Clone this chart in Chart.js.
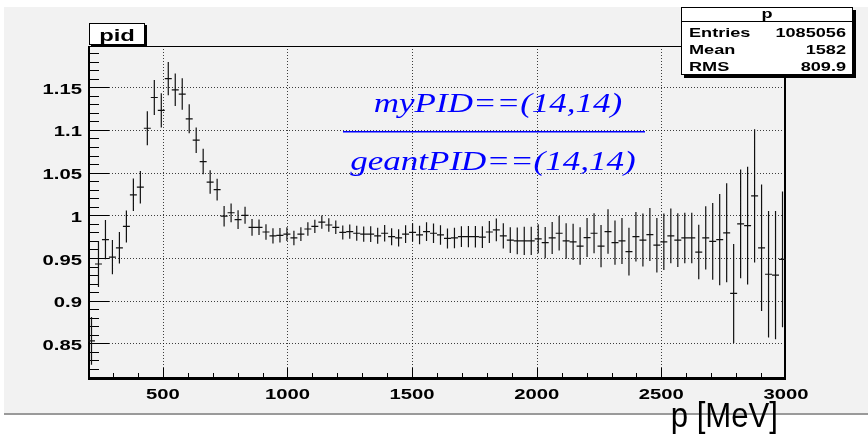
<!DOCTYPE html>
<html>
<head>
<meta charset="utf-8">
<title>pid</title>
<script src="https://cdn.jsdelivr.net/npm/chart.js@4.4.0/dist/chart.umd.min.js"></script>
<style>
  html, body { margin: 0; padding: 0; background: #fff; }
  canvas { display: block; }
</style>
</head>
<body>
<canvas id="pid" width="868" height="435"></canvas>
<script>
// momentum binning of the histogram: 100 bins, 200 - 3000 MeV
const pMin = 200;
const pMax = 3000;
const nBins = 100;

// efficiency ratio per bin and its error
const ratio = [
  0.853, 0.943, 0.9715, 0.951, 0.962, 0.987, 1.024, 1.033, 1.102, 1.138,
  1.123, 1.160, 1.147, 1.142, 1.113, 1.088, 1.063, 1.039, 1.030, 0.999,
  1.003, 0.995, 1.000, 0.986, 0.986, 0.9805, 0.976, 0.9766, 0.978, 0.9735,
  0.978, 0.984, 0.987, 0.992, 0.9887, 0.986, 0.980, 0.981, 0.979, 0.978,
  0.978, 0.976, 0.979, 0.975, 0.9735, 0.978, 0.980, 0.977, 0.981, 0.979,
  0.977, 0.973, 0.9735, 0.975, 0.975, 0.975, 0.9745, 0.9805, 0.983, 0.976,
  0.971, 0.970, 0.970, 0.970, 0.9725, 0.968, 0.9735, 0.979, 0.970, 0.969,
  0.964, 0.974, 0.979, 0.964, 0.981, 0.968, 0.970, 0.9576, 0.975, 0.971,
  0.9775, 0.965, 0.969, 0.976, 0.971, 0.9735, 0.9735, 0.957, 0.9735, 0.9695,
  0.9715, 0.9795, 0.9085, 0.990, 0.988, 1.0228, 0.962, 0.931, 0.930, 0.9485
];
const ratioErr = [
  0.028, 0.027, 0.023, 0.020, 0.0185, 0.0187, 0.019, 0.019, 0.020, 0.0205,
  0.020, 0.0195, 0.019, 0.0185, 0.017, 0.015, 0.015, 0.0137, 0.0127, 0.012,
  0.011, 0.011, 0.010, 0.0098, 0.009, 0.009, 0.009, 0.0085, 0.008, 0.0085,
  0.008, 0.008, 0.0078, 0.0078, 0.0079, 0.008, 0.0082, 0.0084, 0.0087, 0.009,
  0.0091, 0.0094, 0.0097, 0.0099, 0.0101, 0.0103, 0.0106, 0.0108, 0.011, 0.0113,
  0.0115, 0.0117, 0.012, 0.0122, 0.0124, 0.0126, 0.0128, 0.013, 0.0134, 0.0147,
  0.015, 0.0157, 0.0165, 0.0165, 0.017, 0.0182, 0.0188, 0.0203, 0.0208, 0.0212,
  0.022, 0.0228, 0.0233, 0.0247, 0.026, 0.026, 0.027, 0.028, 0.029, 0.031,
  0.031, 0.032, 0.033, 0.032, 0.0315, 0.0295, 0.0295, 0.032, 0.037, 0.045,
  0.0535, 0.058, 0.058, 0.0636, 0.069, 0.078, 0.074, 0.074, 0.075, 0.0795
];

const xTicks = [500, 1000, 1500, 2000, 2500, 3000];
const xTickLabels = ['500', '1000', '1500', '2000', '2500', '3000'];
const xMinorStep = 100;
const yTicks = [0.85, 0.9, 0.95, 1, 1.05, 1.1, 1.15];
const yTickLabels = ['0.85', '0.9', '0.95', '1', '1.05', '1.1', '1.15'];
const yMinorStep = 0.01;
const yMin = 0.8095;
const yMax = 1.1983;

const histTitle = 'pid';
const xTitle = 'p [MeV]';
const numerLabel = 'myPID==(14,14)';
const denomLabel = 'geantPID==(14,14)';
const statsTitle = 'p';
const statsNames = ['Entries', 'Mean', 'RMS'];
const statsValues = ['1085056', '1582', '809.9'];

const binWidth = (pMax - pMin) / nBins;
const binCenters = ratio.map((_, i) => pMin + binWidth * (i + 0.5));

const PAD_GRAY = '#f2f2f2';

// text with a horizontal stretch factor
function drawText(ctx, text, x, y, font, align, sx, color) {
  ctx.save();
  ctx.font = font;
  ctx.fillStyle = color || '#000';
  ctx.textAlign = 'left';
  ctx.textBaseline = 'alphabetic';
  const w = ctx.measureText(text).width * sx;
  let left = x;
  if (align === 'center') left = x - w / 2;
  else if (align === 'right') left = x - w;
  ctx.translate(left, y);
  ctx.scale(sx, 1);
  ctx.fillText(text, 0, 0);
  ctx.restore();
}

function shadowBox(ctx, x, y, w, h, shadow) {
  ctx.fillStyle = '#000';
  ctx.fillRect(x + shadow, y + shadow, w, h);
  ctx.fillStyle = '#fff';
  ctx.fillRect(x, y, w, h);
  ctx.strokeStyle = '#000';
  ctx.lineWidth = 1;
  ctx.strokeRect(x + 0.5, y + 0.5, w - 1, h - 1);
}

const padFrame = {
  id: 'padFrame',
  beforeDraw(chart) {
    const { ctx, chartArea: a, width, height } = chart;
    ctx.save();
    ctx.fillStyle = '#fff';
    ctx.fillRect(0, 0, width, height);
    ctx.fillStyle = PAD_GRAY;
    ctx.fillRect(4, 7, width - 4, 406);
    ctx.fillStyle = '#9a9a9a';
    ctx.fillRect(4, 413, width - 4, 2);
    ctx.restore();
  },
  beforeDatasetsDraw(chart) {
    const { ctx, chartArea: a, scales: { x, y } } = chart;
    ctx.save();
    // dotted grid
    ctx.strokeStyle = 'rgba(0,0,0,0.75)';
    ctx.lineWidth = 1;
    ctx.setLineDash([1, 2]);
    ctx.beginPath();
    xTicks.forEach(v => {
      const px = Math.round(x.getPixelForValue(v)) + 0.5;
      if (px > a.right - 2) return;
      ctx.moveTo(px, a.top); ctx.lineTo(px, a.bottom);
    });
    yTicks.forEach(v => {
      const py = Math.round(y.getPixelForValue(v)) + 0.5;
      ctx.moveTo(a.left, py); ctx.lineTo(a.right, py);
    });
    ctx.stroke();
    ctx.setLineDash([]);

    // frame
    ctx.strokeStyle = '#000';
    ctx.lineWidth = 1;
    ctx.strokeRect(a.left + 0.5, a.top + 0.5, a.width - 1, a.height - 1);
    ctx.lineWidth = 2;
    ctx.beginPath();
    ctx.moveTo(a.left + 1, a.top); ctx.lineTo(a.left + 1, a.bottom + 1);
    ctx.lineTo(a.right, a.bottom + 1);
    ctx.moveTo(a.right - 1, a.top); ctx.lineTo(a.right - 1, a.bottom);
    ctx.stroke();

    // ticks drawn inside the frame
    ctx.lineWidth = 1;
    ctx.beginPath();
    for (let v = pMin + xMinorStep; v < pMax; v += xMinorStep) {
      const px = Math.round(x.getPixelForValue(v)) + 0.5;
      const major = xTicks.includes(Math.round(v));
      ctx.moveTo(px, a.bottom); ctx.lineTo(px, a.bottom - (major ? 10 : 5));
    }
    for (let k = Math.ceil(yMin / yMinorStep); k * yMinorStep < yMax; k++) {
      const v = k * yMinorStep;
      const py = Math.round(y.getPixelForValue(v)) + 0.5;
      const major = k % 5 === 0;
      ctx.moveTo(a.left, py); ctx.lineTo(a.left + (major ? 21 : 11), py);
    }
    ctx.stroke();
    ctx.restore();
  },
  afterDatasetsDraw(chart) {
    const { ctx, chartArea: a, scales: { x, y } } = chart;
    const meta = chart.getDatasetMeta(0);
    ctx.save();
    ctx.beginPath();
    ctx.rect(a.left, a.top, a.width, a.height);
    ctx.clip();
    ctx.strokeStyle = '#111';
    ctx.lineWidth = 1.2;
    ctx.beginPath();
    meta.data.forEach((pt, i) => {
      const x0 = x.getPixelForValue(binCenters[i] - binWidth / 2);
      const x1 = x.getPixelForValue(binCenters[i] + binWidth / 2);
      const yHi = y.getPixelForValue(ratio[i] + ratioErr[i]);
      const yLo = y.getPixelForValue(ratio[i] - ratioErr[i]);
      ctx.moveTo(x0, pt.y); ctx.lineTo(x1, pt.y);
      ctx.moveTo(pt.x, yHi); ctx.lineTo(pt.x, yLo);
    });
    ctx.stroke();
    ctx.restore();
  },
  afterDraw(chart) {
    const { ctx, chartArea: a, scales: { x, y } } = chart;
    const bold = 'bold 15px "Liberation Sans", Arial, sans-serif';
    ctx.save();

    xTicks.forEach((v, i) => {
      drawText(ctx, xTickLabels[i], x.getPixelForValue(v), 399, bold, 'center', 1.35);
    });
    yTicks.forEach((v, i) => {
      drawText(ctx, yTickLabels[i], 82, y.getPixelForValue(v) + 6.5, bold, 'right', 1.35);
    });

    drawText(ctx, xTitle, 778, 427, '35px "Liberation Sans", Arial, sans-serif', 'right', 0.89);

    // histogram title box
    shadowBox(ctx, 89, 23, 56, 22, 2);
    drawText(ctx, histTitle, 117, 41, 'bold 17px "Liberation Sans", Arial, sans-serif', 'center', 1.4);

    // statistics box
    shadowBox(ctx, 681, 7, 172, 68, 3);
    ctx.fillStyle = '#000';
    ctx.fillRect(681, 21, 172, 1);
    const sFont = 'bold 12.5px "Liberation Sans", Arial, sans-serif';
    drawText(ctx, statsTitle, 767, 18, sFont, 'center', 1.45);
    statsNames.forEach((n, i) => {
      const by = 37 + i * 17;
      drawText(ctx, n, 689, by, sFont, 'left', 1.45);
      drawText(ctx, statsValues[i], 846, by, sFont, 'right', 1.45);
    });

    // ratio label
    const blue = '#0000ff';
    const serif = 'italic 28px "Liberation Serif", "Times New Roman", serif';
    drawText(ctx, numerLabel, 498, 112, serif, 'center', 1.25, blue);
    ctx.fillStyle = blue;
    ctx.fillRect(343, 131, 302, 1.5);
    drawText(ctx, denomLabel, 493, 170, serif, 'center', 1.25, blue);

    ctx.restore();
  }
};

new Chart(document.getElementById('pid'), {
  type: 'scatter',
  data: {
    datasets: [{
      label: histTitle,
      data: binCenters.map((p, i) => ({ x: p, y: ratio[i] })),
      pointRadius: 0,
      showLine: false
    }]
  },
  options: {
    responsive: false,
    animation: false,
    layout: { padding: { top: 46, right: 82, bottom: 0, left: 0 } },
    plugins: { legend: { display: false }, tooltip: { enabled: false } },
    scales: {
      x: {
        type: 'linear', min: pMin, max: pMax,
        ticks: { display: false }, grid: { display: false }, border: { display: false },
        afterFit: (s) => { s.height = 57; }
      },
      y: {
        type: 'linear', min: yMin, max: yMax,
        ticks: { display: false }, grid: { display: false }, border: { display: false },
        afterFit: (s) => { s.width = 88; }
      }
    }
  },
  plugins: [padFrame]
});
</script>
</body>
</html>
